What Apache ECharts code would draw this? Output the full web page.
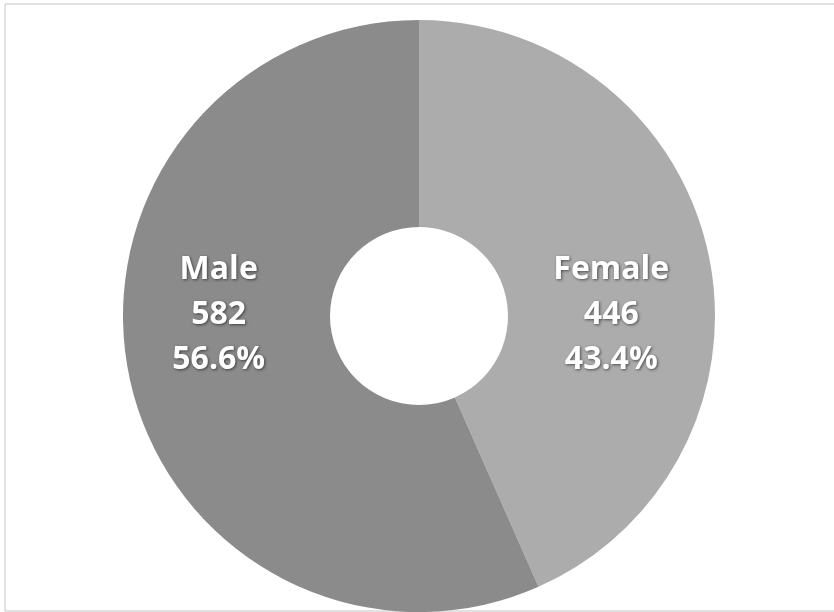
<!DOCTYPE html>
<html>
<head>
<meta charset="utf-8">
<script src="https://cdn.jsdelivr.net/npm/echarts@6/dist/echarts.min.js"></script>
<style>
  html, body { margin: 0; padding: 0; background: #ffffff; }
  #chart { width: 834px; height: 612px; }
</style>
</head>
<body>
<div id="chart"></div>
<script>
// Gender split of respondents
const categories = ['Female', 'Male'];
const counts = [446, 582];
const percents = ['43.4%', '56.6%'];
const sliceColors = ['#acacac', '#8b8b8b'];
// label nudges from the default inside position
const labelOffsets = [[1, 39], [-9, -41]];

const chart = echarts.init(document.getElementById('chart'), null, { renderer: 'canvas' });

const seriesData = categories.map((name, i) => ({
  name: name,
  value: counts[i],
  itemStyle: { color: sliceColors[i] },
  label: { offset: labelOffsets[i] }
}));

chart.setOption({
  animation: false,
  backgroundColor: '#ffffff',
  graphic: [{
    type: 'rect',
    shape: { x: 5, y: 4, width: 840, height: 607 },
    style: { fill: 'none', stroke: '#c4c4c4', lineWidth: 1 },
    silent: true
  }],
  series: [{
    type: 'pie',
    center: [419, 316],
    radius: [89, 296],
    startAngle: 90,
    clockwise: true,
    avoidLabelOverlap: false,
    itemStyle: { borderWidth: 0 },
    label: {
      show: true,
      position: 'inside',
      formatter: (p) => p.name + '\n' + p.value + '\n' + percents[p.dataIndex],
      color: '#ffffff',
      fontFamily: '"Open Sans", "Noto Sans", sans-serif',
      fontWeight: 'bold',
      fontSize: 32,
      lineHeight: 45,
      align: 'center',
      textShadowColor: 'rgba(0,0,0,0.55)',
      textShadowBlur: 3,
      textShadowOffsetX: 1,
      textShadowOffsetY: 1
    },
    labelLine: { show: false },
    emphasis: { disabled: true },
    data: seriesData
  }]
});
</script>
</body>
</html>
